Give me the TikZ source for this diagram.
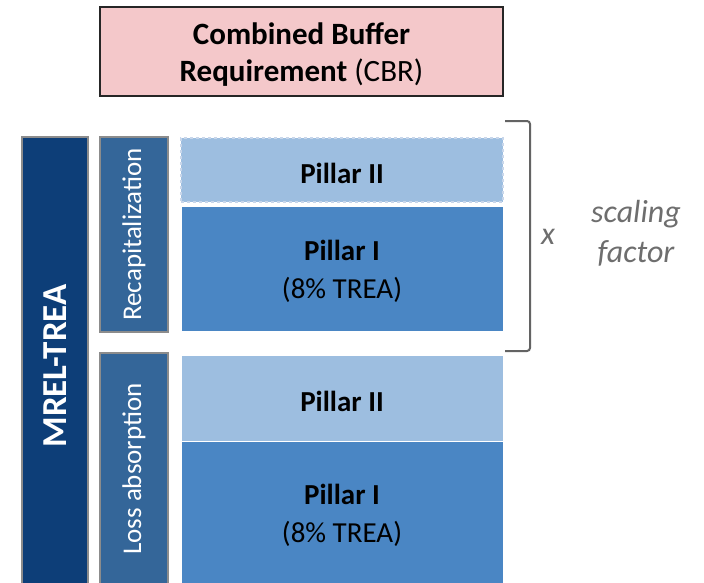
\documentclass[tikz,border=0pt]{standalone}
\usepackage{fontspec}
\setmainfont{Carlito}
\definecolor{cbrpink}{HTML}{F4C8CA}
\definecolor{navy}{HTML}{0D3E78}
\definecolor{midblue}{HTML}{346699}
\definecolor{pillarone}{HTML}{4A86C4}
\definecolor{pillartwo}{HTML}{9DBEE0}
\definecolor{dashcol}{HTML}{C8D6EA}
\definecolor{graytxt}{HTML}{6E6E6E}
\begin{document}
\begin{tikzpicture}[x=1pt,y=-1pt,
  box/.style={draw,inner sep=0pt,outer sep=0pt,anchor=north west},
  sidebox/.style={box,draw=gray!90,line width=1.5pt},
  pilbox/.style={box,draw=white,line width=1pt},
  bigtxt/.style={font=\fontsize{29}{38}\selectfont,align=center,yshift=-3pt},
  cbrtxt/.style={font=\fontsize{31}{37}\selectfont,align=center,yshift=-3pt},
  graylbl/.style={font=\fontsize{32}{40}\selectfont\itshape,text=graytxt,align=center,yshift=-1.5pt}]
\useasboundingbox[fill=white] (0,0) rectangle (704,582);
% CBR
\node[box,draw=black!85,line width=1.5pt,fill=cbrpink,minimum width=403pt,minimum height=89pt] (cbr) at (100,7) {};
\node[cbrtxt] (cbrt) at (cbr.center) {\textbf{Combined Buffer}\\\textbf{Requirement} (CBR)};
% MREL-TREA
\node[sidebox,fill=navy,minimum width=66pt,minimum height=450pt] (mrel) at (22,137) {};
\node[rotate=90,text=white,font=\fontsize{35}{40}\selectfont\bfseries] (mrelt) at (55,366) {MREL-TREA};
% side boxes
\node[sidebox,fill=midblue,minimum width=68pt,minimum height=195pt] (recap) at (100,137) {};
\node[rotate=90,text=white,font=\fontsize{27}{32}\selectfont] (recapt) at (recap.center) {Recapitalization};
\node[sidebox,fill=midblue,minimum width=68pt,minimum height=235pt] (loss) at (100,353) {};
\node[rotate=90,text=white,font=\fontsize{27}{32}\selectfont] (losst) at (134,469) {Loss absorption};
% pillars top
\node[box,draw=dashcol,dashed,line width=1.5pt,fill=pillartwo,minimum width=322pt,minimum height=64pt] (p2a) at (181,138) {};
\node[bigtxt] (p2at) at (p2a.center) {\textbf{Pillar II}};
\node[pilbox,fill=pillarone,minimum width=322pt,minimum height=125pt] (p1a) at (181,206) {};
\node[bigtxt] (p1at) at (p1a.center) {\textbf{Pillar I}\\(8\% TREA)};
% pillars bottom
\node[pilbox,fill=pillartwo,minimum width=322pt,minimum height=86pt] (p2b) at (181,355) {};
\node[bigtxt] (p2bt) at (p2b.center) {\textbf{Pillar II}};
\node[pilbox,fill=pillarone,minimum width=322pt,minimum height=150pt] (p1b) at (181,441) {};
\node[bigtxt] (p1bt) at (342,512) {\textbf{Pillar I}\\(8\% TREA)};
% bracket
\coordinate (bt) at (505,121);
\coordinate (bb) at (505,351);
\draw[graytxt!90!black,line width=2pt,rounded corners=3pt] (bt) -- (530,121) -- (530,351) -- (bb);
\node[graylbl] (xl) at (548,235) {x};
\node[graylbl] (sf) at (636,232) {scaling\\factor};
\end{tikzpicture}
\end{document}
